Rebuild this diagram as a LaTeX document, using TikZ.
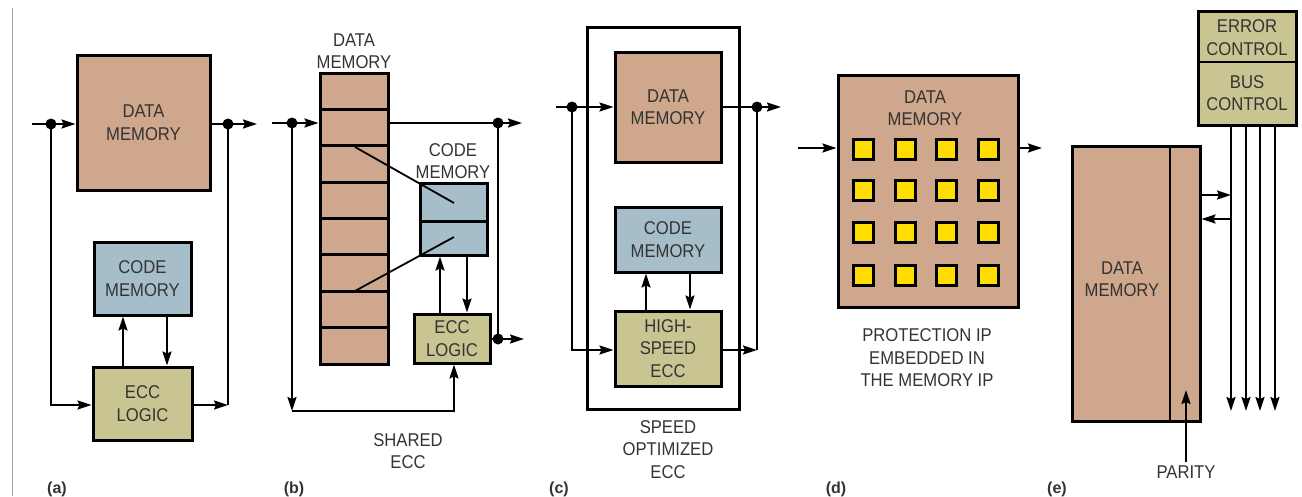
\documentclass[tikz,border=0pt]{standalone}
\usepackage{fontspec}
\setmainfont[FakeStretch=0.9]{Liberation Sans}
\newfontfamily\tagfont{Liberation Sans}
\usetikzlibrary{arrows.meta}
\definecolor{tan}{HTML}{CEA78C}
\definecolor{codeblue}{HTML}{A6BEC9}
\definecolor{olive}{HTML}{C8C592}
\definecolor{chipyel}{HTML}{FFDD00}
\definecolor{txt}{HTML}{333333}
\tikzset{
  box/.style={draw=black, line width=3pt, inner sep=0pt, align=center, text=txt,
    font=\fontsize{18.5}{22.5}\selectfont},
  datab/.style={box, fill=tan},
  codeb/.style={box, fill=codeblue},
  eccb/.style={box, fill=olive},
  chip/.style={draw=black, line width=3pt, fill=chipyel, minimum size=20pt, inner sep=0pt},
  conn/.style={line width=1.8pt, draw=black},
  arr/.style={conn, -{Stealth[length=14pt,width=9pt,inset=2pt]}},
  dotc/.style={circle, fill=black, inner sep=0pt, minimum size=11pt},
  lbl/.style={text=txt, align=center, font=\fontsize{18.5}{22.5}\selectfont},
  tag/.style={text=txt, font=\tagfont\fontsize{16}{18}\bfseries\selectfont},
}
\begin{document}
\begin{tikzpicture}[x=1pt,y=-1pt]
\useasboundingbox (0,0) rectangle (1302,496);
% left rule
\draw[line width=1pt, draw=gray!70] (12,8) -- (12,496);

% ---------------- (a) ----------------
\node[datab, minimum width=133pt, minimum height=135pt] (aD) at (143.5,122.5) {DATA\\MEMORY};
\node[codeb, minimum width=97pt, minimum height=73pt] (aC) at (142.5,278.5) {CODE\\MEMORY};
\node[eccb, minimum width=99pt, minimum height=73pt] (aE) at (142.5,403.5) {ECC\\LOGIC};
\coordinate (aIn) at (32,124);
\node[dotc] (aDi) at (51,124) {};
\node[dotc] (aDo) at (228,124) {};
\coordinate (aOut) at (257,124);
\draw[conn] (aIn) -- (aDi.center);
\draw[arr] (aDi.center) -- (aD.west |- aDi);
\draw[conn] (aD.east |- aDo) -- (aDo.center);
\draw[arr] (aDo.center) -- (aOut);
\draw[arr] (aDi.center) |- (aE.west |- 0,405);
\draw[arr] (aE.east |- 0,405) -- (228,405);
\draw[conn] (228,405) -- (aDo.center);
\draw[arr] (aE.north -| 123,0) -- (aC.south -| 123,0);
\draw[arr] (aC.south -| 167,0) -- (aE.north -| 167,0);
\node[tag] (ta) at (57,489) {(a)};

% ---------------- (b) ----------------
\node[datab, minimum width=68pt, minimum height=291pt] (bD) at (354,218.5) {};
\foreach \yy in {109.4,145.8,182.1,218.5,254.9,291.3,327.6}
  \draw[line width=3pt] (bD.west |- 0,\yy) -- (bD.east |- 0,\yy);
\node[lbl] (bDl) at (354,51) {DATA\\MEMORY};
\node[codeb, minimum width=67pt, minimum height=72pt] (bC) at (453.5,219) {};
\draw[line width=3pt] (bC.west |- 0,221) -- (bC.east |- 0,221);
\node[lbl] (bCl) at (453,161) {CODE\\MEMORY};
\node[eccb, minimum width=76pt, minimum height=49pt] (bE) at (452,338.5) {ECC\\LOGIC};
\coordinate (bIn) at (272,123);
\node[dotc] (bDi) at (292,123) {};
\node[dotc] (bDt) at (498,123) {};
\coordinate (bOut1) at (522,123);
\node[dotc] (bDb) at (498,339) {};
\coordinate (bOut2) at (524,339);
\draw[conn] (bIn) -- (bDi.center);
\draw[arr] (bDi.center) -- (bD.west |- bDi);
\draw[conn] (bD.east |- bDt) -- (bDt.center);
\draw[arr] (bDt.center) -- (bOut1);
\draw[conn] (bDt.center) -- (bDb.center);
\draw[conn] (bE.east |- bDb) -- (bDb.center);
\draw[arr] (bDb.center) -- (bOut2);
\coordinate (bCorner) at (292,411);
\draw[arr] (bDi.center) -- (bCorner);
\draw[arr] (bCorner) -| (bE.south -| 454,0);
\draw[arr] (bE.north -| 440,0) -- (bC.south -| 440,0);
\draw[arr] (bC.south -| 467,0) -- (bE.north -| 467,0);
\coordinate (bL1a) at (355,147); \coordinate (bL1b) at (454,203);
\coordinate (bL2a) at (355,291); \coordinate (bL2b) at (454,237);
\draw[conn] (bL1a) -- (bL1b);
\draw[conn] (bL2a) -- (bL2b);
\node[lbl] (bS) at (408,451) {SHARED\\ECC};
\node[tag] (tb) at (294,489) {(b)};

% ---------------- (c) ----------------
\node[draw=black, line width=3pt, minimum width=152pt, minimum height=382pt, inner sep=0pt] (cO) at (663,218) {};
\node[datab, minimum width=106pt, minimum height=110pt] (cD) at (668,107) {DATA\\MEMORY};
\node[codeb, minimum width=106pt, minimum height=65pt] (cC) at (668,239.5) {CODE\\MEMORY};
\node[eccb, minimum width=106pt, minimum height=75pt] (cE) at (668,348.5) {HIGH-\\SPEED\\ECC};
\coordinate (cIn) at (556,107);
\node[dotc] (cDi) at (572,107) {};
\node[dotc] (cDo) at (757,107) {};
\coordinate (cOut) at (781,107);
\draw[conn] (cIn) -- (cDi.center);
\draw[arr] (cDi.center) -- (cD.west |- cDi);
\draw[conn] (cD.east |- cDo) -- (cDo.center);
\draw[arr] (cDo.center) -- (cOut);
\draw[arr] (cDi.center) |- (cE.west |- 0,350);
\draw[arr] (cE.east |- 0,350) -- (757,350);
\draw[conn] (757,350) -- (cDo.center);
\draw[arr] (cE.north -| 646,0) -- (cC.south -| 646,0);
\draw[arr] (cC.south -| 690,0) -- (cE.north -| 690,0);
\node[lbl] (cS) at (668,449.5) {SPEED\\OPTIMIZED\\ECC};
\node[tag] (tc) at (559,489) {(c)};

% ---------------- (d) ----------------
\node[datab, minimum width=180pt, minimum height=232pt] (dD) at (928,191) {};
\node[lbl] (dDl) at (925,108) {DATA\\MEMORY};
\foreach \cx [count=\i] in {863.5,905,946.5,988.5}
  \foreach \cy [count=\j] in {149.5,190.5,232.5,275}
    \node[chip] (chip\i\j) at (\cx,\cy) {};
\coordinate (dIn) at (798,148);
\coordinate (dOut) at (1042,148);
\draw[arr] (dIn) -- (dD.west |- dIn);
\draw[arr] (dD.east |- dOut) -- (dOut);
\node[lbl] (dS) at (927,358) {PROTECTION IP\\EMBEDDED IN\\THE MEMORY IP};
\node[tag] (td) at (836,489) {(d)};

% ---------------- (e) ----------------
\node[eccb, minimum width=98pt, minimum height=114pt] (eB) at (1247,68) {};
\draw[line width=1.2pt] (eB.west |- 0,62) -- (eB.east |- 0,62);
\node[lbl] (eBl1) at (1247,37.5) {ERROR\\CONTROL};
\node[lbl] (eBl2) at (1247,93) {BUS\\CONTROL};
\node[datab, minimum width=128pt, minimum height=275pt] (eD) at (1136,283.5) {};
\node[lbl] (eDl) at (1122,279) {DATA\\MEMORY};
\draw[line width=1.2pt] (1170,146) -- (1170,421);
\foreach \bx [count=\k] in {1231,1246,1260,1275}
  \draw[arr] (eB.south -| \bx,0) -- (\bx,411);
\draw[arr] (eD.east |- 0,195) -- (1231,195);
\draw[arr] (1231,219) -- (eD.east |- 0,219);
\node[lbl] (eP) at (1186,472) {PARITY};
\draw[arr] (eP.north) -- (1186,390);
\node[tag] (te) at (1057,489) {(e)};
\end{tikzpicture}
\end{document}
